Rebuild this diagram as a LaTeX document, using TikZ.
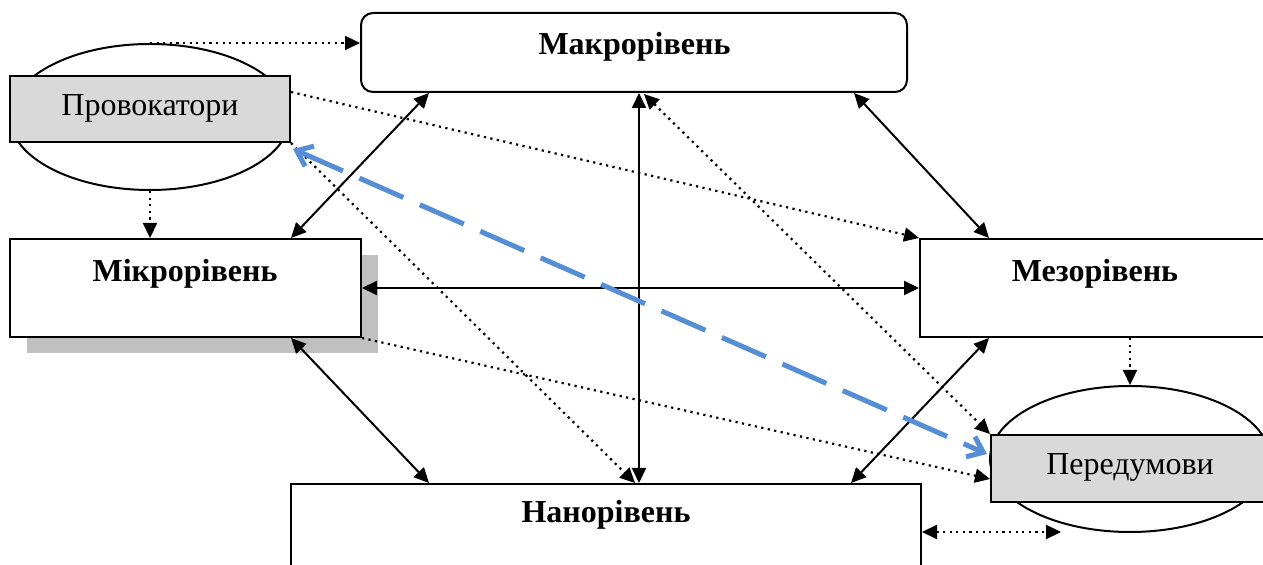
\documentclass[tikz,border=0pt]{standalone}
\usepackage{fontspec}
\setmainfont{Liberation Serif}
\usetikzlibrary{arrows.meta,calc,shapes.geometric}
\definecolor{provgray}{HTML}{D9D9D9}
\definecolor{shadowgray}{HTML}{C0C0C0}
\definecolor{dashblue}{HTML}{558ED5}
\tikzset{
  box/.style={draw, line width=1pt, inner sep=0pt, fill=white},
  graybox/.style={draw, line width=1pt, inner sep=0pt, fill=provgray},
  oval/.style={ellipse, draw, line width=1pt, inner sep=0pt, fill=white, minimum width=140pt, minimum height=73pt},
  lbl/.style={font=\fontsize{16}{19}\selectfont, inner sep=0pt, anchor=base},
  blbl/.style={font=\fontsize{16}{19}\selectfont\bfseries, inner sep=0pt, anchor=base},
  solidarr/.style={line width=1pt, {Triangle[length=7.5pt,width=7pt]}-{Triangle[length=7.5pt,width=7pt]}},
  dotarr/.style={line width=1.1pt, dash pattern=on 1.1pt off 2.2pt, -{Triangle[length=7.5pt,width=7pt]}},
  dotdbl/.style={line width=1.1pt, dash pattern=on 1.1pt off 2.2pt, {Triangle[length=7.5pt,width=7pt]}-{Triangle[length=7.5pt,width=7pt]}},
  bluearr/.style={line width=2.5pt, dashblue, dash pattern=on 24pt off 9pt, {Straight Barb[length=7pt,width=11pt]}-{Straight Barb[length=7pt,width=11pt]}},
}
\begin{document}
\begin{tikzpicture}[x=0.5pt,y=-0.5pt]
\clip (0,0) rectangle (1263,565);
\fill[white] (0,0) rectangle (1263,565);

% boxes
\node[box, rounded corners=6pt, minimum width=273pt, minimum height=39.5pt] (makro) at (634,52.5) {};
\node[blbl] (makroT) at (634.5,55) {Макрорівень};

\node[oval] (provE) at (150,117) {};
\node[graybox, minimum width=140pt, minimum height=33pt] (provB) at (150,109) {};
\node[lbl] (provT) at (150,116) {Провокатори};

\node[fill=shadowgray, inner sep=0pt, minimum width=175.5pt, minimum height=49pt] (mikroSh) at (202,304.5) {};
\node[box, minimum width=175.5pt, minimum height=49pt] (mikro) at (185.5,288) {};
\node[blbl] (mikroT) at (185,282) {Мікрорівень};

\node[box, minimum width=185pt, minimum height=49pt] (mezo) at (1105,288) {};
\node[blbl] (mezoT) at (1095,282) {Мезорівень};

\node[oval] (peredE) at (1130,459) {};
\node[graybox, minimum width=139.5pt, minimum height=33.5pt] (peredB) at (1130.5,468.5) {};
\node[lbl] (peredT) at (1130,475) {Передумови};

\node[box, minimum width=315pt, minimum height=83pt] (nano) at (606,567) {};
\node[blbl] (nanoT) at (606,523) {Нанорівень};

% solid double arrows
\draw[solidarr] ($(makro.south west)+(69,0)$) -- ($(mikro.north west)+(282,0)$);
\draw[solidarr] ($(makro.south west)+(494,0)$) -- ($(mezo.north west)+(70,0)$);
\draw[solidarr] ($(makro.south west)+(279,0)$) -- ($(nano.north west)+(349,0)$);
\draw[solidarr] (mikro.east) -- (mezo.west);
\draw[solidarr] ($(mikro.south west)+(282,0)$) -- ($(nano.north west)+(139,0)$);
\draw[solidarr] ($(mezo.south west)+(70,0)$) -- ($(nano.north west)+(561,0)$);

% dotted arrows
\draw[dotarr] (provE.north) -- (makro.west |- provE.north);
\draw[dotarr] (provE.south) -- (provE.south |- mikro.north);
\draw[dotarr] ($(provB.north east)+(0,17)$) -- (mezo.north west);
\draw[dotarr] (provB.south east) -- ($(nano.north west)+(345,0)$);
\draw[dotdbl] ($(makro.south west)+(284,1)$) -- (peredB.north west);
\draw[dotarr] (mikro.south east) -- ($(peredB.north west)+(0,45)$);
\draw[dotarr] (mezo.south -| peredE.north) -- (peredE.north);
\draw[dotdbl] ($(nano.north east)+(0,49)$) -- ($(nano.north east)+(139,49)$);

% blue dashed
\draw[bluearr] ($(provB.south east)+(2,6)$) -- ($(peredB.north west)+(-3,20)$);
\end{tikzpicture}
\end{document}
